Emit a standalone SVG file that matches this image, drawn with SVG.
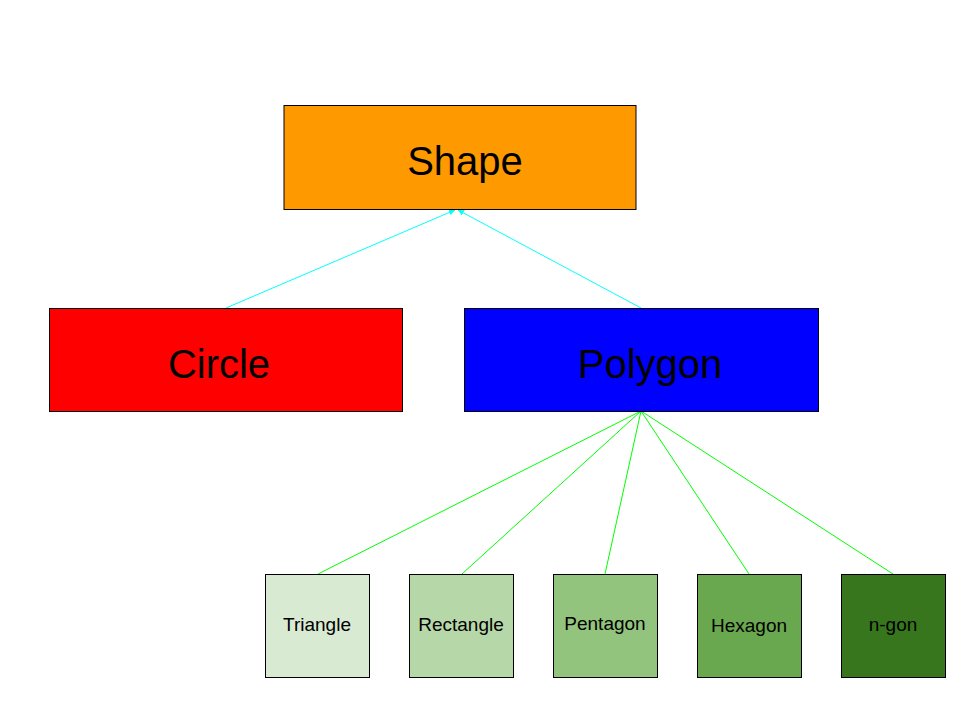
<svg xmlns="http://www.w3.org/2000/svg" width="960" height="720" viewBox="0 0 960 720">
<style>
.box{stroke:#000;stroke-width:1}
.big{font-family:"Liberation Sans",Arial,sans-serif;font-size:40px;fill:#000;text-anchor:middle;dominant-baseline:central}
.small{font-family:"Liberation Sans",Arial,sans-serif;font-size:19px;fill:#000;text-anchor:middle;dominant-baseline:central}
.cyan{stroke:#00ffff;stroke-width:1;fill:none}
.green{stroke:#00ff00;stroke-width:1;fill:none}
</style>
<defs>
<marker id="ah" viewBox="0 0 10 10" refX="10" refY="5" markerWidth="6" markerHeight="6" orient="auto" markerUnits="userSpaceOnUse">
<path d="M0,0 L10,5 L0,10 z" fill="#00ffff"/>
</marker>
</defs>
<rect width="960" height="720" fill="#fff"/>
<g id="connectors">
<line class="cyan" x1="226" y1="308" x2="455" y2="210" marker-end="url(#ah)"/>
<line class="cyan" x1="641" y1="308" x2="458" y2="210" marker-end="url(#ah)"/>
<line class="green" x1="641" y1="411" x2="318" y2="574"/>
<line class="green" x1="641" y1="411" x2="462" y2="574"/>
<line class="green" x1="641" y1="411" x2="605" y2="574"/>
<line class="green" x1="641" y1="411" x2="749" y2="574"/>
<line class="green" x1="641" y1="411" x2="893" y2="574"/>
</g>
<g id="shape"><rect class="box" x="284" y="105.5" width="352" height="104" fill="#ff9900"/><text class="big" x="465" y="161">Shape</text></g>
<g id="circle"><rect class="box" x="49.5" y="308.5" width="353" height="103" fill="#ff0000"/><text class="big" x="219" y="364">Circle</text></g>
<g id="polygon"><rect class="box" x="464.5" y="308.5" width="354" height="103" fill="#0000ff"/><text class="big" x="650" y="364">Polygon</text></g>
<g id="triangle"><rect class="box" x="265.5" y="574.5" width="104" height="103" fill="#d9ead3"/><text class="small" x="317" y="624">Triangle</text></g>
<g id="rectangle"><rect class="box" x="409.5" y="574.5" width="104" height="103" fill="#b6d7a8"/><text class="small" x="461" y="624">Rectangle</text></g>
<g id="pentagon"><rect class="box" x="553.5" y="574.5" width="104" height="103" fill="#93c47d"/><text class="small" x="605" y="623">Pentagon</text></g>
<g id="hexagon"><rect class="box" x="697.5" y="574.5" width="104" height="103" fill="#6aa84f"/><text class="small" x="749" y="625">Hexagon</text></g>
<g id="ngon"><rect class="box" x="841.5" y="574.5" width="104" height="103" fill="#38761d"/><text class="small" x="893" y="624">n-gon</text></g>
</svg>
